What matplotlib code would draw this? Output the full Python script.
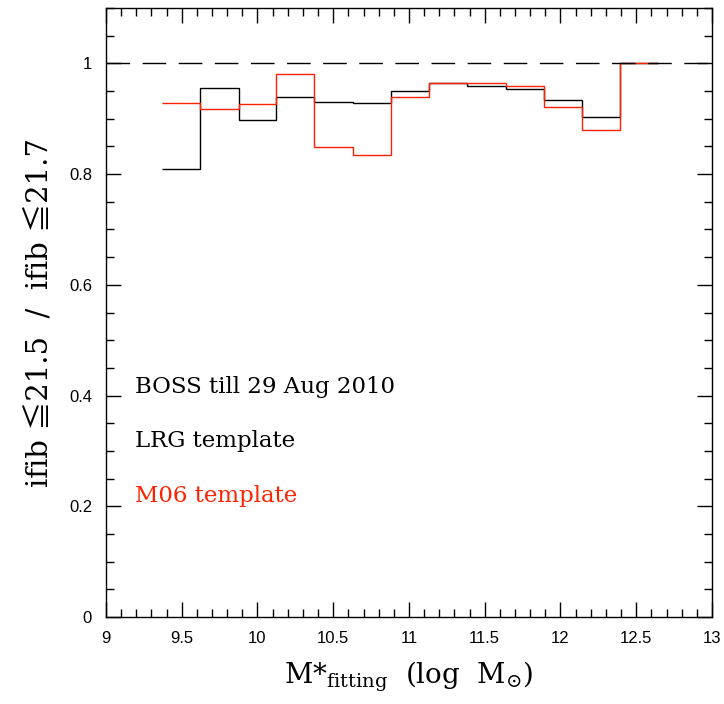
import matplotlib
matplotlib.use("Agg")
import matplotlib.pyplot as plt
from matplotlib.ticker import MultipleLocator

plt.rcParams["mathtext.fontset"] = "dejavuserif"

# bin edges in log stellar mass
edges = [9.37, 9.62, 9.875, 10.125, 10.375, 10.63, 10.88,
         11.13, 11.385, 11.64, 11.89, 12.14, 12.39, 12.645]

# completeness ratio, LRG template (black) and M06 template (red)
lrg = [0.809, 0.956, 0.897, 0.939, 0.931, 0.928, 0.950,
       0.965, 0.960, 0.954, 0.934, 0.903, 1.0]
m06 = [0.928, 0.917, 0.927, 0.980, 0.849, 0.835, 0.939,
       0.964, 0.965, 0.959, 0.921, 0.880, 1.0]

labels = ["BOSS till 29 Aug 2010", "LRG template", "M06 template"]
label_y = [0.415, 0.318, 0.218]
label_col = ["black", "black", "#ff2200"]

serif = ["DejaVu Serif", "Noto Sans CJK SC"]

fig = plt.figure(figsize=(7.24, 7.04), dpi=100)
ax = fig.add_axes([0.1464, 0.1236, 0.837, 0.865])

ax.axhline(1.0, color="black", lw=1.0, dashes=(17, 9))
ax.stairs(lrg, edges, color="black", lw=1.0, baseline=None)
ax.stairs(m06, edges, color="#ff2200", lw=1.0, baseline=None)

ax.set_xlim(9, 13)
ax.set_ylim(0, 1.1)
ax.xaxis.set_minor_locator(MultipleLocator(0.1))
ax.yaxis.set_minor_locator(MultipleLocator(0.05))
ax.set_xticks([9, 9.5, 10, 10.5, 11, 11.5, 12, 12.5, 13])
ax.set_xticklabels(["9", "9.5", "10", "10.5", "11", "11.5", "12", "12.5", "13"])
ax.set_yticks([0, 0.2, 0.4, 0.6, 0.8, 1.0])
ax.set_yticklabels(["0", "0.2", "0.4", "0.6", "0.8", "1"])
ax.tick_params(which="both", direction="in", top=True, right=True,
               labelsize=12, width=1)
ax.tick_params(which="major", length=11)
ax.tick_params(which="minor", length=6)
ax.tick_params(axis="x", pad=10)
ax.tick_params(axis="y", pad=10)
for lab in ax.get_xticklabels() + ax.get_yticklabels():
    lab.set_family("Liberation Sans")

for s in ax.spines.values():
    s.set_linewidth(1.0)

for t, y, c in zip(labels, label_y, label_col):
    ax.text(9.19, y, t, color=c, fontsize=16.5, family=serif,
            va="center", ha="left")

ax.set_xlabel(r"M*$_{\mathrm{fitting}}$  (log  M$_{\odot}$)",
              fontsize=20, family=serif, labelpad=10)
ax.set_ylabel("ifib \u226621.5  /  ifib \u226621.7",
              fontsize=21, family=serif, labelpad=11)

plt.savefig("out.png", dpi=100)
